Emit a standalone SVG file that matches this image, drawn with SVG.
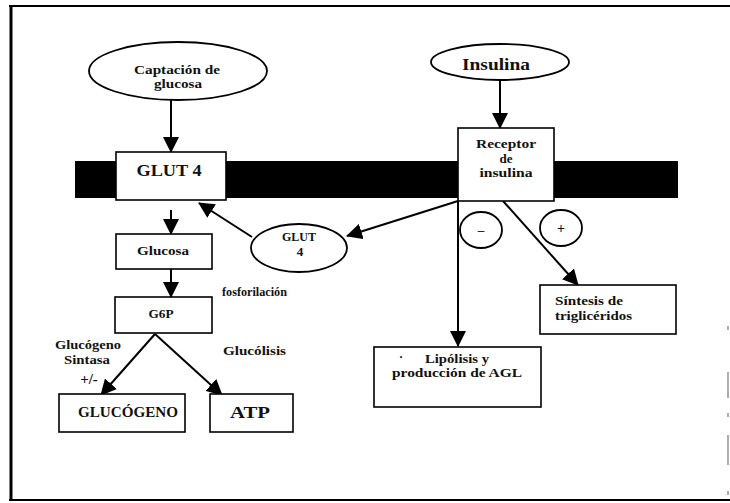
<svg xmlns="http://www.w3.org/2000/svg" width="730" height="503" viewBox="0 0 730 503">
<defs>
<marker id="ah" markerUnits="userSpaceOnUse" markerWidth="16" markerHeight="16" viewBox="0 0 16 16" refX="15" refY="8" orient="auto">
<path d="M0,0 L16,8 L0,16 Z" fill="#000"/>
</marker>
<style>
.box{fill:#fff;stroke:#000;stroke-width:1.6}
.ell{fill:#fff;stroke:#000;stroke-width:1.8}
.t{font-family:"Liberation Serif","Times New Roman",serif;font-weight:bold;fill:#111}
.c{text-anchor:middle}
.ar{stroke:#000;stroke-width:2;fill:none;marker-end:url(#ah)}
.dash{stroke:#777;stroke-width:1.2}
</style>
</defs>
<rect width="730" height="503" fill="#fff"/>
<g id="frame">
<line x1="9" y1="6" x2="730" y2="6" stroke="#000" stroke-width="2"/>
<line x1="11" y1="5" x2="11" y2="501" stroke="#000" stroke-width="3"/>
<line x1="9" y1="500" x2="730" y2="500" stroke="#000" stroke-width="2"/>
<line class="dash" x1="728" y1="326" x2="728" y2="330"/>
<line class="dash" x1="728" y1="372" x2="728" y2="398"/>
<line class="dash" x1="728" y1="413" x2="728" y2="417"/>
<line class="dash" x1="728" y1="435" x2="728" y2="465"/>
<line class="dash" x1="728" y1="491" x2="728" y2="495"/>
</g>
<g id="membrane">
<rect x="75" y="161" width="603" height="37" fill="#000"/>
</g>
<g id="connectors">
<line class="ar" x1="171" y1="100" x2="171" y2="152"/>
<line class="ar" x1="500" y1="80" x2="500" y2="128"/>
<line class="ar" x1="171" y1="210" x2="171" y2="234"/>
<line class="ar" x1="171" y1="269" x2="171" y2="297"/>
<line class="ar" x1="155" y1="334" x2="101" y2="395"/>
<line class="ar" x1="155" y1="334" x2="222" y2="395"/>
<line class="ar" x1="252" y1="237" x2="199" y2="203"/>
<line class="ar" x1="458" y1="201" x2="347" y2="236"/>
<line class="ar" x1="458" y1="201" x2="458" y2="346"/>
<line class="ar" x1="503" y1="201" x2="578" y2="285"/>
</g>
<g id="captacion">
<ellipse class="ell" cx="178" cy="71" rx="89" ry="29"/>
<text class="t c" x="177" y="74" font-size="13" textLength="86" lengthAdjust="spacingAndGlyphs">Captación de</text>
<text class="t c" x="178" y="88" font-size="13" textLength="48" lengthAdjust="spacingAndGlyphs">glucosa</text>
</g>
<g id="insulina">
<ellipse class="ell" cx="500" cy="62" rx="69" ry="18"/>
<text class="t c" x="496" y="70" font-size="17" textLength="68" lengthAdjust="spacingAndGlyphs">Insulina</text>
</g>
<g id="glut4box">
<rect class="box" x="116" y="152" width="110" height="48"/>
<text class="t c" x="169" y="176" font-size="17" textLength="65" lengthAdjust="spacingAndGlyphs">GLUT 4</text>
</g>
<g id="receptor">
<rect class="box" x="458" y="128" width="96" height="73"/>
<text class="t c" x="506" y="148" font-size="13" textLength="60" lengthAdjust="spacingAndGlyphs">Receptor</text>
<text class="t c" x="506" y="163" font-size="13">de</text>
<text class="t c" x="506" y="177" font-size="13" textLength="53" lengthAdjust="spacingAndGlyphs">insulina</text>
</g>
<g id="glut4ell">
<ellipse class="ell" cx="299" cy="248" rx="48" ry="24"/>
<text class="t c" x="299" y="241" font-size="13" textLength="34" lengthAdjust="spacingAndGlyphs">GLUT</text>
<text class="t c" x="300" y="256" font-size="13">4</text>
</g>
<g id="minus">
<ellipse class="ell" cx="481" cy="230" rx="21" ry="18"/>
<text class="t c" x="481" y="234" font-size="13">–</text>
</g>
<g id="plus">
<ellipse class="ell" cx="561" cy="228" rx="21" ry="18"/>
<text class="t c" x="561" y="233" font-size="14">+</text>
</g>
<g id="glucosa">
<rect class="box" x="116" y="234" width="96" height="35"/>
<text class="t c" x="163" y="255" font-size="13" textLength="52" lengthAdjust="spacingAndGlyphs">Glucosa</text>
</g>
<g id="fosforilacion">
<text class="t" x="222" y="296" font-size="13" textLength="65" lengthAdjust="spacingAndGlyphs">fosforilación</text>
</g>
<g id="g6p">
<rect class="box" x="115" y="297" width="97" height="36"/>
<text class="t c" x="161" y="318" font-size="13" textLength="25" lengthAdjust="spacingAndGlyphs">G6P</text>
</g>
<g id="sintasa">
<text class="t c" x="88" y="349" font-size="13" textLength="66" lengthAdjust="spacingAndGlyphs">Glucógeno</text>
<text class="t c" x="87" y="364" font-size="13" textLength="46" lengthAdjust="spacingAndGlyphs">Sintasa</text>
<text class="t c" x="89" y="384" font-size="15" font-weight="normal">+/-</text>
</g>
<g id="glucolisis">
<text class="t" x="223" y="355" font-size="13" textLength="63" lengthAdjust="spacingAndGlyphs">Glucólisis</text>
</g>
<g id="glucogeno">
<rect class="box" x="59" y="394" width="126" height="38"/>
<text class="t c" x="128" y="417" font-size="15" textLength="100" lengthAdjust="spacingAndGlyphs">GLUCÓGENO</text>
</g>
<g id="atp">
<rect class="box" x="210" y="394" width="83" height="38"/>
<text class="t c" x="250" y="418" font-size="17" textLength="40" lengthAdjust="spacingAndGlyphs">ATP</text>
</g>
<g id="lipolisis">
<rect class="box" x="374" y="347" width="167" height="60"/>
<text class="t" x="399" y="361" font-size="12">·</text>
<text class="t c" x="457" y="363" font-size="13" textLength="64" lengthAdjust="spacingAndGlyphs">Lipólisis y</text>
<text class="t c" x="457" y="377" font-size="13" textLength="130" lengthAdjust="spacingAndGlyphs">producción de AGL</text>
</g>
<g id="sintesis">
<rect class="box" x="540" y="285" width="136" height="49"/>
<text class="t" x="555" y="305" font-size="13" textLength="68" lengthAdjust="spacingAndGlyphs">Síntesis de</text>
<text class="t" x="555" y="320" font-size="13" textLength="77" lengthAdjust="spacingAndGlyphs">triglicéridos</text>
</g>
</svg>
